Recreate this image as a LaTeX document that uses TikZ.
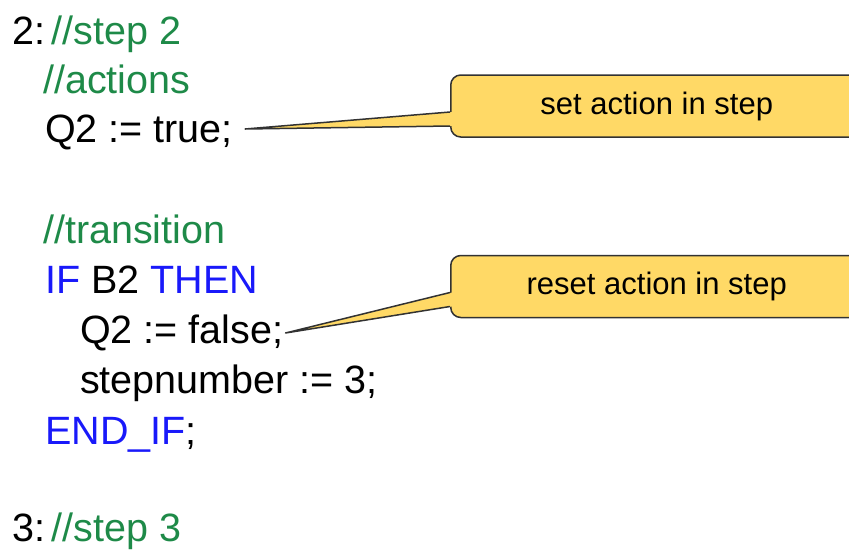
\documentclass[tikz,border=0pt]{standalone}
\usepackage{fontspec}
\setmainfont{Liberation Sans}
\usepackage{tikz}
\usetikzlibrary{calc}
\usepackage{xcolor}
\definecolor{code-green}{RGB}{30,138,72}
\definecolor{code-blue}{RGB}{25,25,250}
\definecolor{callout-yellow}{RGB}{255,217,102}
\definecolor{callout-line}{RGB}{50,50,50}
\tikzstyle{codeline}=[anchor=base west, inner sep=0pt, font=\fontsize{39.5}{47}\selectfont]
\tikzstyle{calloutbox}=[anchor=west, draw=callout-line, fill=callout-yellow, line width=1.5pt, rounded corners=10pt, minimum width=412pt, minimum height=62pt, inner sep=0pt, font=\fontsize{31}{37}\selectfont]
\tikzstyle{pointerfill}=[fill=callout-yellow]
\tikzstyle{pointerline}=[draw=callout-line, line width=1.5pt, line join=round]
\newcommand{\comment}[1]{\textcolor{code-green}{#1}}
\newcommand{\keyword}[1]{\textcolor{code-blue}{#1}}
\newcommand{\callNpointer}[2]{
	\fill[pointerfill] ($(#1.west)+(2,6)$) -- (#2) -- ($(#1.west)+(2,20)$) -- cycle;
	\draw[pointerline] ($(#1.west)+(0,6)$) -- (#2) -- ($(#1.west)+(0,20)$);
}

\begin{document}
\begin{tikzpicture}[x=1pt,y=-1pt]
	\useasboundingbox (0,0) rectangle (849,550);
	\node[codeline] (step2) at (12,44) {2:\,\comment{//step 2}};
	\node[codeline] (actions) at (43,93) {\comment{//actions}};
	\node[codeline] (setq) at (45,142) {Q2 := true;};
	\node[codeline] (transition) at (43,243) {\comment{//transition}};
	\node[codeline] (ifb) at (45,293) {\keyword{IF} B2 \keyword{THEN}};
	\node[codeline] (resetq) at (80,343) {Q2 := false;};
	\node[codeline] (stepnr) at (80,393) {stepnumber := 3;};
	\node[codeline] (endif) at (45,444) {\keyword{END\_IF};};
	\node[codeline] (step3) at (12,541) {3:\,\comment{//step 3}};
	\node[calloutbox] (setbox) at (450,106) {set action in step};
	\node[calloutbox] (resetbox) at (450,286.5) {reset action in step};
	\coordinate (settip) at ($(setq.base east)+(12,-13)$);
	\coordinate (resettip) at ($(resetq.base east)+(2,-10)$);
	\callNpointer{setbox}{settip}
	\callNpointer{resetbox}{resettip}
\end{tikzpicture}
\end{document}
